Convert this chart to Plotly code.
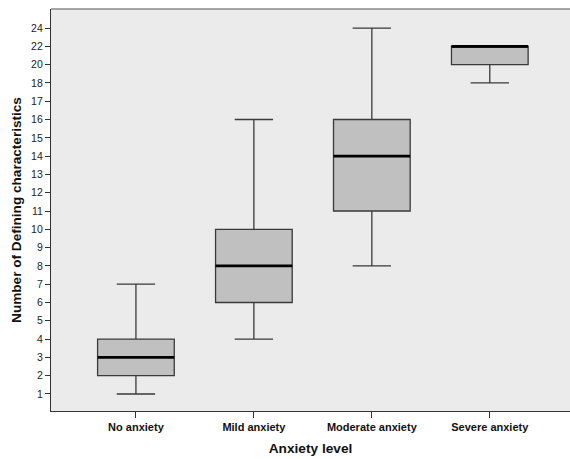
import plotly.graph_objects as go

categories = ["No anxiety", "Mild anxiety", "Moderate anxiety", "Severe anxiety"]
lower_whisker = [1, 4, 8, 18]
q1_values = [2, 6, 11, 20]
median_values = [3, 8, 14, 22]
q3_values = [4, 10, 16, 22]
upper_whisker = [7, 16, 24, 22]
tick_values = [1, 2, 3, 4, 5, 6, 7, 8, 9, 10, 11, 12, 13, 14, 15, 16, 17, 18, 20, 22, 24]
tick_labels = [str(v) for v in tick_values]


def axis_pos(v):
    # the original axis is compressed above 18 (18, 20, 22, 24 equally spaced by one unit step)
    return v if v <= 18 else 18 + (v - 18) / 2


BOX_W = 0.65
xs = list(range(len(categories)))

fig = go.Figure()
fig.add_trace(go.Box(
    x=xs,
    q1=[axis_pos(v) for v in q1_values],
    median=[axis_pos(v) for v in median_values],
    q3=[axis_pos(v) for v in q3_values],
    lowerfence=[axis_pos(v) for v in lower_whisker],
    upperfence=[axis_pos(v) for v in upper_whisker],
    width=BOX_W,
    whiskerwidth=0.5,
    fillcolor="#c0c0c0",
    line=dict(color="#3a3a3a", width=1.3),
    boxpoints=False,
    hoverinfo="skip",
    showlegend=False,
))

mx, my = [], []
for i, m in zip(xs, median_values):
    mx += [i - BOX_W / 2, i + BOX_W / 2, None]
    my += [axis_pos(m), axis_pos(m), None]
fig.add_trace(go.Scatter(x=mx, y=my, mode="lines",
                         line=dict(color="#000000", width=2.6),
                         hoverinfo="skip", showlegend=False))

fig.update_layout(
    width=570, height=459,
    margin=dict(l=51, r=0, t=9, b=48),
    paper_bgcolor="white",
    plot_bgcolor="#ebebeb",
    font=dict(family="Liberation Sans, Arial, sans-serif", color="#111111"),
    xaxis=dict(
        range=[-0.72, 3.68],
        tickmode="array", tickvals=xs, ticktext=categories,
        tickfont=dict(size=11, family="Liberation Sans, Arial, sans-serif", weight="bold"),
        ticks="outside", ticklen=6, tickcolor="#333333", tickwidth=1,
        showline=True, linecolor="#333333", linewidth=1.2,
        showgrid=False, zeroline=False,
        title=dict(text="<b>Anxiety level</b>", font=dict(size=13.7), standoff=11),
    ),
    yaxis=dict(
        range=[0.07, 22.04],
        tickmode="array", tickvals=[axis_pos(v) for v in tick_values], ticktext=tick_labels,
        tickfont=dict(size=10.5, color="#222222"),
        ticks="outside", ticklen=5, tickcolor="#333333", tickwidth=1,
        showline=True, linecolor="#333333", linewidth=1.2,
        showgrid=False, zeroline=False,
        title=dict(text="<b>Number of Defining characteristics</b>", font=dict(size=13.6), standoff=6),
    ),
    shapes=[dict(type="line", xref="paper", yref="paper", x0=0, x1=1, y0=1, y1=1,
                 line=dict(color="#8a8a8a", width=1.5))],
)

fig.write_html("out.html", config={"displayModeBar": False},
               post_script="document.body.style.margin='0';document.body.style.padding='0';document.body.style.overflow='hidden';")
